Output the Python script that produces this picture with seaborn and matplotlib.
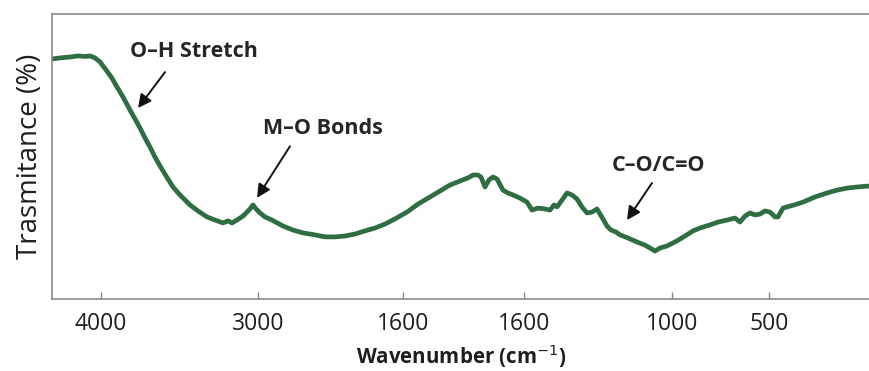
import matplotlib
matplotlib.use("Agg")
import matplotlib.pyplot as plt
import seaborn as sns
import pandas as pd

# Position along the (non-linear) wavenumber axis, and transmittance (arbitrary %)
position = [52, 60, 70, 78, 85, 90, 95, 100, 106, 112, 117, 123, 130, 135, 140, 145, 150, 155,
            160, 166, 173, 180, 190, 198, 207, 215, 223, 228, 232, 237, 243, 247, 250, 253,
            256, 260, 265, 272, 283, 293, 303, 315, 325, 335, 345, 355, 365, 375, 385, 395,
            407, 418, 430, 440, 450, 460, 468, 473, 478, 481, 485, 489, 493, 497, 503, 508,
            513, 520, 527, 532, 538, 545, 550, 554, 557, 562, 567, 572, 577, 582, 587, 592,
            597, 600, 603, 607, 611, 616, 620, 628, 637, 645, 652, 655, 660, 667, 677, 685,
            693, 700, 710, 718, 727, 735, 740, 745, 750, 755, 760, 765, 770, 775, 778, 783,
            790, 797, 803, 815, 827, 837, 847, 857, 867, 870]
transmittance = [84.2, 84.6, 84.9, 85.3, 85.1, 85.3, 84.6, 83.2, 80.4, 77.5, 74.4, 70.9, 66.3,
                 63.2, 60.0, 56.5, 53.3, 49.8, 46.7, 43.2, 39.3, 36.5, 33.0, 30.9, 28.8, 27.7,
                 26.7, 27.4, 26.7, 27.7, 29.1, 30.5, 31.6, 33.0, 31.6, 30.2, 28.8, 27.7, 25.6,
                 24.2, 23.2, 22.5, 21.8, 21.8, 22.1, 22.8, 23.9, 24.9, 26.3, 28.1, 30.5, 33.3,
                 35.8, 37.9, 40.0, 41.4, 42.5, 43.5, 43.5, 42.8, 39.3, 41.8, 42.8, 42.1, 38.2,
                 37.2, 36.5, 35.4, 34.0, 31.2, 31.9, 31.6, 31.2, 33.0, 32.3, 34.7, 37.2, 36.5,
                 35.1, 32.3, 30.2, 30.5, 31.6, 29.8, 28.1, 25.6, 24.2, 23.5, 22.5, 21.4, 20.0,
                 18.9, 17.5, 16.8, 17.9, 18.6, 20.4, 22.1, 23.9, 24.9, 26.0, 27.0, 27.7, 28.4,
                 27.0, 29.1, 30.2, 29.5, 29.8, 30.9, 30.5, 28.8, 28.8, 31.9, 32.6, 33.3, 34.0,
                 35.8, 37.2, 38.2, 38.9, 39.3, 39.6, 39.6]

tick_positions = [101, 258, 403, 524, 672, 769]
tick_labels = ["4000", "3000", "1600", "1600", "1000", "500"]

annotation_texts = ["O\u2013H Stretch", "M\u2013O Bonds", "C\u2013O/C=O"]
annotation_targets = [(138, 67.0), (257, 35.5), (627, 27.7)]
annotation_text_pos = [(194, 87.0), (323, 60.0), (659, 47.0)]
arrow_tails = [(165, 79.6), (290, 53.6), (652, 40.7)]

df = pd.DataFrame({"position": position, "transmittance": transmittance})

sns.set_style("white")
plt.rcParams["font.family"] = ["Open Sans", "DejaVu Sans"]

fig = plt.figure(figsize=(8.7, 3.71), dpi=100)
ax = fig.add_axes([52 / 870, 1 - 299 / 371, 1 - 52 / 870, (299 - 14) / 371])

sns.lineplot(data=df, x="position", y="transmittance", ax=ax, color="#2f6d42",
             linewidth=3.4, solid_joinstyle="round", solid_capstyle="round")

ax.set_xlim(52, 870)
ax.set_ylim(0, 100)
ax.set_yticks([])
ax.set_xticks(tick_positions)
ax.set_xticklabels(tick_labels, fontsize=16.5, color="#1e1e1e")
ax.tick_params(axis="x", direction="in", length=5, width=1, color="#888888", pad=9,
               bottom=True)

for side in ["left", "top", "bottom"]:
    ax.spines[side].set_color("#8a8a8a")
    ax.spines[side].set_linewidth(1.2)
ax.spines["right"].set_visible(False)

ax.set_xlabel("Wavenumber (cm$^{-1}$)", fontsize=14.8, fontweight="bold",
              color="#1e1e1e", labelpad=5)
ax.set_ylabel("Trasmitance (%)", fontsize=20, color="#1e1e1e", labelpad=6)

for text, target, tpos, tail in zip(annotation_texts, annotation_targets,
                                    annotation_text_pos, arrow_tails):
    ax.annotate("", xy=target, xytext=tail,
                arrowprops=dict(arrowstyle="-|>", color="#111111", lw=1.4,
                                mutation_scale=20, shrinkA=0, shrinkB=0))
    ax.text(tpos[0], tpos[1], text, fontsize=15.5, fontweight="bold",
            color="#262626", ha="center", va="center")

fig.savefig("out.png", dpi=100)
